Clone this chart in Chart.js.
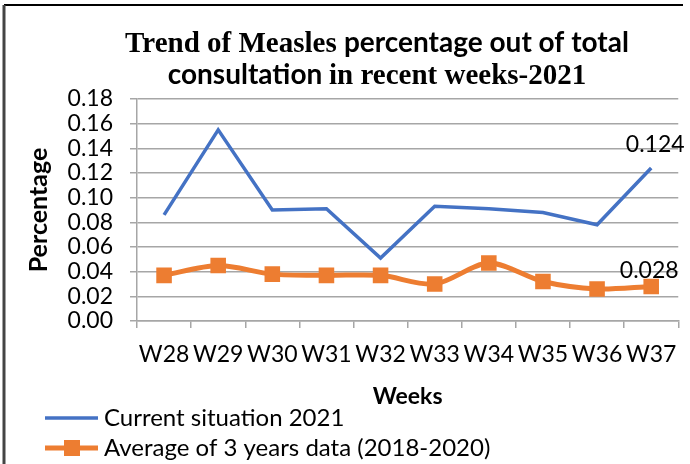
<!DOCTYPE html>
<html>
<head>
<meta charset="utf-8">
<script src="https://cdn.jsdelivr.net/npm/chart.js@4.4.1/dist/chart.umd.min.js"></script>
<style>
  html, body { margin: 0; padding: 0; background: #fff; }
  #wrap { width: 690px; height: 464px; position: relative; }
</style>
</head>
<body>
<div id="wrap"><canvas id="measlesChart"></canvas></div>
<script>
const weekLabels = ['W28', 'W29', 'W30', 'W31', 'W32', 'W33', 'W34', 'W35', 'W36', 'W37'];
const current2021 = [0.086, 0.155, 0.090, 0.091, 0.051, 0.093, 0.091, 0.088, 0.078, 0.124];
const avg3Years = [0.037, 0.045, 0.038, 0.037, 0.037, 0.030, 0.047, 0.032, 0.026, 0.028];
const yTicks = [0.00, 0.02, 0.04, 0.06, 0.08, 0.10, 0.12, 0.14, 0.16, 0.18];

const SANS = 'Lato, "Open Sans", sans-serif';
const SERIF = '"Liberation Serif", "DejaVu Serif", serif';

// title has mixed fonts (Times + Calibri bold), so draw it by hand
const titleLines = [
    [['Trend of Measles ', 'bold 29px ' + SERIF], ['percentage out of total', 'bold 28px ' + SANS]],
    [['consultation ', 'bold 28px ' + SANS], ['in recent weeks-2021', 'bold 29px ' + SERIF]]
];

const framePlugin = {
    id: 'frame',
    beforeDraw(chart) {
        const c = chart.ctx;
        c.save();
        c.fillStyle = '#fff';
        c.fillRect(0, 0, chart.width, chart.height);
        c.strokeStyle = '#000';
        c.lineWidth = 2;
        c.beginPath(); c.moveTo(4, 5); c.lineTo(683, 5); c.stroke();
        c.strokeStyle = '#444';
        c.lineWidth = 3;
        c.beginPath(); c.moveTo(4, 5); c.lineTo(4, chart.height); c.stroke();
        c.restore();
    },
    afterDraw(chart) {
        const c = chart.ctx;
        c.save();
        c.fillStyle = '#000';
        c.textBaseline = 'alphabetic';
        const baselines = [52, 84];
        titleLines.forEach((parts, i) => {
            let total = 0;
            parts.forEach(p => { c.font = p[1]; total += c.measureText(p[0]).width; });
            let x = 377 - total / 2;
            parts.forEach(p => {
                c.font = p[1];
                c.textAlign = 'left';
                c.fillText(p[0], x, baselines[i]);
                x += c.measureText(p[0]).width;
            });
        });

        // labels on last points
        c.font = '23px ' + SANS;
        c.textAlign = 'center';
        c.textBaseline = 'middle';
        const m0 = chart.getDatasetMeta(0).data;
        const p0 = m0[m0.length - 1];
        c.fillText(current2021[current2021.length - 1].toFixed(3), p0.x + 4, p0.y - 23);
        const m1 = chart.getDatasetMeta(1).data;
        const p1 = m1[m1.length - 1];
        c.fillText(avg3Years[avg3Years.length - 1].toFixed(3), p1.x - 2, p1.y - 16);

        // legend (two rows)
        const rows = [418, 448];
        chart.data.datasets.forEach((ds, i) => {
            const y = rows[i];
            c.strokeStyle = ds.borderColor;
            c.lineWidth = ds.borderWidth;
            c.beginPath(); c.moveTo(45, y); c.lineTo(98, y); c.stroke();
            if (ds.pointRadius > 0) {
                c.fillStyle = ds.pointBackgroundColor;
                c.fillRect(72 - 8, y - 8, 16, 16);
            }
            c.fillStyle = '#000';
            c.font = '24px ' + SANS;
            c.textAlign = 'left';
            c.textBaseline = 'middle';
            c.fillText(ds.label, 104, y);
        });
        c.restore();
    }
};

const ctx = document.getElementById('measlesChart').getContext('2d');

new Chart(ctx, {
    type: 'line',
    data: {
        labels: weekLabels,
        datasets: [{
            label: 'Current situation 2021',
            data: current2021,
            borderColor: '#4472C4',
            borderWidth: 3.5,
            pointRadius: 0,
            pointHoverRadius: 0,
            tension: 0,
            fill: false
        },
        {
            label: 'Average of 3 years data (2018-2020)',
            data: avg3Years,
            borderColor: '#ED7D31',
            backgroundColor: '#ED7D31',
            pointBackgroundColor: '#ED7D31',
            pointBorderColor: '#ED7D31',
            pointStyle: 'rect',
            pointRadius: 11,
            pointBorderWidth: 0,
            borderWidth: 5,
            tension: 0.3,
            fill: false
        }]
    },
    options: {
        responsive: true,
        maintainAspectRatio: false,
        animation: false,
        layout: { padding: { top: 99, left: 0, right: 6, bottom: 54 } },
        scales: {
            x: {
                offset: true,
                grid: { offset: true, drawOnChartArea: false, drawTicks: true, tickLength: 7, color: '#a6a6a6', lineWidth: 1.5 },
                border: { color: '#a6a6a6', width: 1.5 },
                ticks: { color: '#000', font: { family: SANS, size: 23 }, padding: 13, maxRotation: 0, autoSkip: false },
                title: { display: true, text: 'Weeks', color: '#000', font: { family: SANS, size: 23, weight: 'bold' }, padding: 0 },
                afterFit(scale) { scale.height = 89; }
            },
            y: {
                min: 0,
                max: 0.18,
                afterBuildTicks(scale) { scale.ticks = yTicks.map(v => ({ value: v })); },
                grid: { color: '#a6a6a6', lineWidth: 1.5, tickLength: 7 },
                border: { color: '#a6a6a6', width: 1.5 },
                ticks: { color: '#000', font: { family: SANS, size: 23 }, padding: 17, autoSkip: false, callback: v => v.toFixed(2) },
                title: { display: true, text: 'Percentage', color: '#000', font: { family: SANS, size: 25, weight: 'bold' }, padding: { top: 24, bottom: 0 } },
                afterFit(scale) { scale.width = 137; }
            }
        },
        plugins: {
            legend: { display: false },
            title: { display: false },
            tooltip: { enabled: false }
        }
    },
    plugins: [framePlugin]
});
</script>
</body>
</html>
